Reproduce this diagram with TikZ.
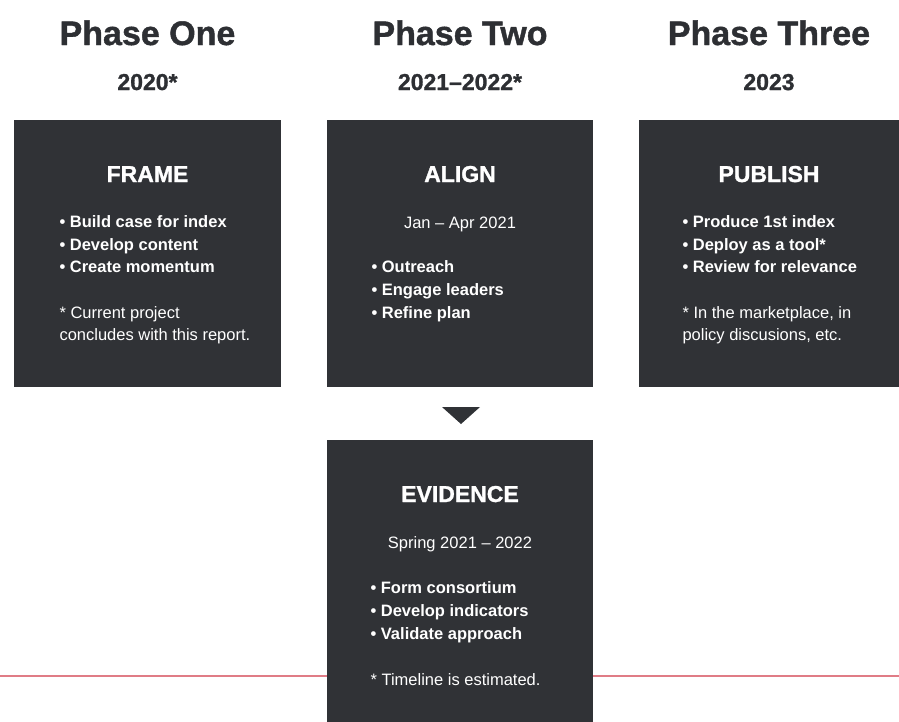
\documentclass[tikz,border=0pt]{standalone}
\usepackage{fontspec}
\setmainfont{Liberation Sans}
\newfontfamily\heavyfont{Liberation Sans}[BoldFeatures={FakeBold=1.2}]
\definecolor{boxfill}{HTML}{303236}
\definecolor{inktext}{HTML}{2D2F33}
\definecolor{redline}{HTML}{E07C86}
\begin{document}
\begin{tikzpicture}[x=1pt,y=-1pt,
  phasebox/.style={fill=boxfill,draw=none,inner sep=0pt,anchor=north west},
  phasetitle/.style={anchor=base,text=inktext,font=\fontsize{34}{40}\heavyfont\bfseries},
  yeartext/.style={anchor=base,text=inktext,font=\fontsize{23}{27}\heavyfont\bfseries},
  boxtitle/.style={anchor=base,text=white,font=\fontsize{23}{27}\heavyfont\bfseries},
  bullettext/.style={anchor=base west,text=white,font=\fontsize{16.5}{22.5}\selectfont\bfseries,align=left},
  datetext/.style={anchor=base,text=white,font=\fontsize{16.5}{22.5}\selectfont},
  notetext/.style={anchor=base west,text=white,font=\fontsize{16.5}{22.5}\selectfont,align=left},
  redrule/.style={draw=redline,line width=1.5pt}
]
\useasboundingbox (0,0) rectangle (899,721);
% boxes
\node[phasebox,minimum width=267pt,minimum height=267pt] (frame) at (14,120) {};
\node[phasebox,minimum width=266pt,minimum height=267pt] (align) at (327,120) {};
\node[phasebox,minimum width=262pt,minimum height=267pt] (publish) at (639,120) {};
\node[phasebox,minimum width=266pt,minimum height=283pt] (evidence) at (327,440) {};
% phase headers
\node[phasetitle] (p1) at (147.5,45) {Phase One};
\node[phasetitle] (p2) at (460,45) {Phase Two};
\node[phasetitle] (p3) at (769,45) {Phase Three};
\node[yeartext] (y1) at (147.5,90) {2020*};
\node[yeartext] (y2) at (460,90) {2021–2022*};
\node[yeartext] (y3) at (769,90) {2023};
% FRAME
\node[boxtitle] (t1) at (147.5,182) {FRAME};
\node[bullettext] (b1a) at (56,227) {• Build case for index};
\node[bullettext] (b1b) at (56,250) {• Develop content};
\node[bullettext] (b1c) at (56,272) {• Create momentum};
\node[notetext] (n1a) at (56,318) {* Current project};
\node[notetext] (n1b) at (56,340) {concludes with this report.};
% ALIGN
\node[boxtitle] (t2) at (460,182) {ALIGN};
\node[datetext] (d2) at (460,228) {Jan – Apr 2021};
\node[bullettext] (b2a) at (368,272) {• Outreach};
\node[bullettext] (b2b) at (368,295) {• Engage leaders};
\node[bullettext] (b2c) at (368,318) {• Refine plan};
% PUBLISH
\node[boxtitle] (t3) at (769,182) {PUBLISH};
\node[bullettext] (b3a) at (679,227) {• Produce 1st index};
\node[bullettext] (b3b) at (679,250) {• Deploy as a tool*};
\node[bullettext] (b3c) at (679,272) {• Review for relevance};
\node[notetext] (n3a) at (679,318) {* In the marketplace, in};
\node[notetext] (n3b) at (679,340) {policy discusions, etc.};
% EVIDENCE
\node[boxtitle] (t4) at (460,502) {EVIDENCE};
\node[datetext] (d4) at (460,548) {Spring 2021 – 2022};
\node[bullettext] (b4a) at (367,593) {• Form consortium};
\node[bullettext] (b4b) at (367,616) {• Develop indicators};
\node[bullettext] (b4c) at (367,639) {• Validate approach};
\node[notetext] (n4) at (367,685) {* Timeline is estimated.};
% arrow between ALIGN and EVIDENCE
\coordinate (triL) at (442,407);
\coordinate (triR) at (480,407);
\coordinate (triB) at (461,424);
\fill[boxfill] (triL) -- (triR) -- (triB) -- cycle;
% red timeline
\coordinate (rl) at (0,676);
\coordinate (rr) at (899,676);
\draw[redrule] (rl) -- (rl -| evidence.west);
\draw[redrule] (rr -| evidence.east) -- (rr);
\end{tikzpicture}
\end{document}
